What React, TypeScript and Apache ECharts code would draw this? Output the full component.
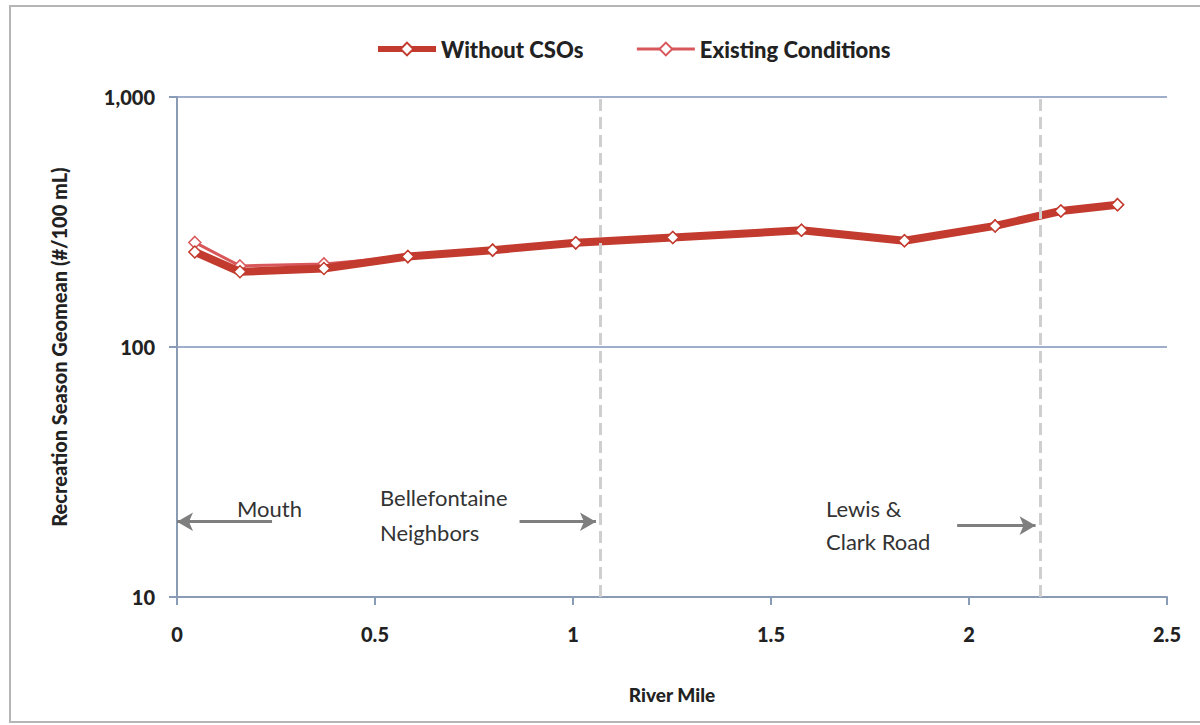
import React, { useEffect, useRef } from "react";
import * as echarts from "echarts";

const riverMiles = [0.045, 0.159, 0.371, 0.583, 0.797, 1.007, 1.252, 1.577, 1.837, 2.066, 2.232, 2.375];
const withoutCSOs = [240, 200, 206, 230, 244, 261, 274, 293, 266, 305, 350, 371];
const existingConditions = [262, 211, 215, 230, 244, 261, 274, 293, 266, 305, 350, 371];
const boundaryMiles = [1.07, 2.18];
const xTicks = [0, 0.5, 1, 1.5, 2, 2.5];
const yTicks = [10, 100, 1000];

const FONT = "Lato, 'Open Sans', sans-serif";

export default function App() {
  const ref = useRef<HTMLDivElement>(null);
  useEffect(() => {
    document.body.style.margin = "0";
    const chart = echarts.init(ref.current!, null, { renderer: "svg" });
    const arrowStyle = { color: "#7f7f7f", width: 3, type: "solid" as const };
    chart.setOption({
      animation: false,
      backgroundColor: "#ffffff",
      legend: {
        top: 33,
        left: 370,
        itemWidth: 58,
        itemHeight: 16,
        itemGap: 52,
        textStyle: { fontFamily: FONT, fontWeight: 900, fontSize: 22, color: "#222" },
        data: [
          { name: "Without CSOs", lineStyle: { width: 6 } },
          { name: "Existing Conditions", lineStyle: { width: 3 } },
        ],
      },
      grid: { left: 177, right: 33, top: 97, bottom: 128 },
      xAxis: {
        type: "value",
        min: 0,
        max: 2.5,
        interval: 0.5,
        name: "River Mile",
        nameLocation: "middle",
        nameGap: 88,
        nameTextStyle: { fontFamily: FONT, fontWeight: 900, fontSize: 19, color: "#222" },
        axisLine: { lineStyle: { color: "#8a9bb5", width: 2 } },
        axisTick: { show: true, length: 8, lineStyle: { color: "#8a9bb5", width: 2 } },
        axisLabel: {
          margin: 27,
          fontFamily: FONT,
          fontWeight: 900,
          fontSize: 20,
          color: "#222",
          formatter: (v: number) => (xTicks.includes(v) ? String(v) : ""),
        },
        splitLine: { show: false },
      },
      yAxis: {
        type: "log",
        logBase: 10,
        min: 10,
        max: 1000,
        name: "Recreation Season Geomean (#/100 mL)",
        nameLocation: "middle",
        nameGap: 108,
        nameTextStyle: { fontFamily: FONT, fontWeight: 900, fontSize: 20, color: "#222" },
        axisLine: { show: true, lineStyle: { color: "#8a9bb5", width: 2 } },
        axisTick: { show: true, length: 8, lineStyle: { color: "#8a9bb5", width: 2 } },
        axisLabel: {
          margin: 22,
          fontFamily: FONT,
          fontWeight: 900,
          fontSize: 20,
          color: "#222",
          formatter: (v: number) =>
            yTicks.includes(Math.round(v)) ? Math.round(v).toLocaleString("en-US") : "",
        },
        splitLine: { show: true, lineStyle: { color: "#7f93b8", width: 1.5 } },
        minorSplitLine: { show: false },
      },
      series: [
        {
          name: "Existing Conditions",
          type: "line",
          data: riverMiles.map((m, i) => [m, existingConditions[i]]),
          lineStyle: { color: "#d8575a", width: 3 },
          itemStyle: { color: "#ffffff", borderColor: "#d8575a", borderWidth: 1.5 },
          color: "#d8575a",
          symbol: "diamond",
          symbolSize: 12,
          showSymbol: true,
          z: 3,
          markLine: {
            silent: true,
            symbol: ["none", "none"],
            label: { show: false },
            lineStyle: { color: "#cfcfcf", width: 3, type: [12, 6] },
            data: boundaryMiles.map((m) => ({ xAxis: m })),
          },
        },
        {
          name: "Without CSOs",
          type: "line",
          data: riverMiles.map((m, i) => [m, withoutCSOs[i]]),
          lineStyle: { color: "#c23b2e", width: 8 },
          itemStyle: { color: "#ffffff", borderColor: "#c23b2e", borderWidth: 1.5 },
          color: "#c23b2e",
          symbol: "diamond",
          symbolSize: 12,
          showSymbol: true,
          z: 4,
          markLine: {
            silent: true,
            symbol: ["none", "arrow"],
            symbolSize: [14, 16],
            label: { show: false },
            lineStyle: arrowStyle,
            data: [
              [{ coord: [0.24, 20] }, { coord: [0, 20] }],
              [{ coord: [0.865, 20] }, { coord: [1.058, 20] }],
              [{ coord: [1.97, 19.3] }, { coord: [2.168, 19.3] }],
            ],
          },
        },
      ],
      graphic: [
        {
          type: "rect",
          shape: { x: 10, y: 6, width: 1200, height: 716 },
          style: { fill: "none", stroke: "#b5b5b5", lineWidth: 2 },
          silent: true,
        },
        {
          type: "text",
          x: 237,
          y: 508,
          style: { text: "Mouth", font: `22px ${FONT}`, fill: "#333", verticalAlign: "middle" },
        },
        {
          type: "text",
          x: 380,
          y: 497,
          style: { text: "Bellefontaine", font: `22px ${FONT}`, fill: "#333", verticalAlign: "middle" },
        },
        {
          type: "text",
          x: 380,
          y: 532,
          style: { text: "Neighbors", font: `22px ${FONT}`, fill: "#333", verticalAlign: "middle" },
        },
        {
          type: "text",
          x: 826,
          y: 508,
          style: { text: "Lewis &", font: `22px ${FONT}`, fill: "#333", verticalAlign: "middle" },
        },
        {
          type: "text",
          x: 826,
          y: 541,
          style: { text: "Clark Road", font: `22px ${FONT}`, fill: "#333", verticalAlign: "middle" },
        },
      ],
    });
    return () => chart.dispose();
  }, []);
  return <div ref={ref} style={{ width: 1200, height: 725 }} />;
}
